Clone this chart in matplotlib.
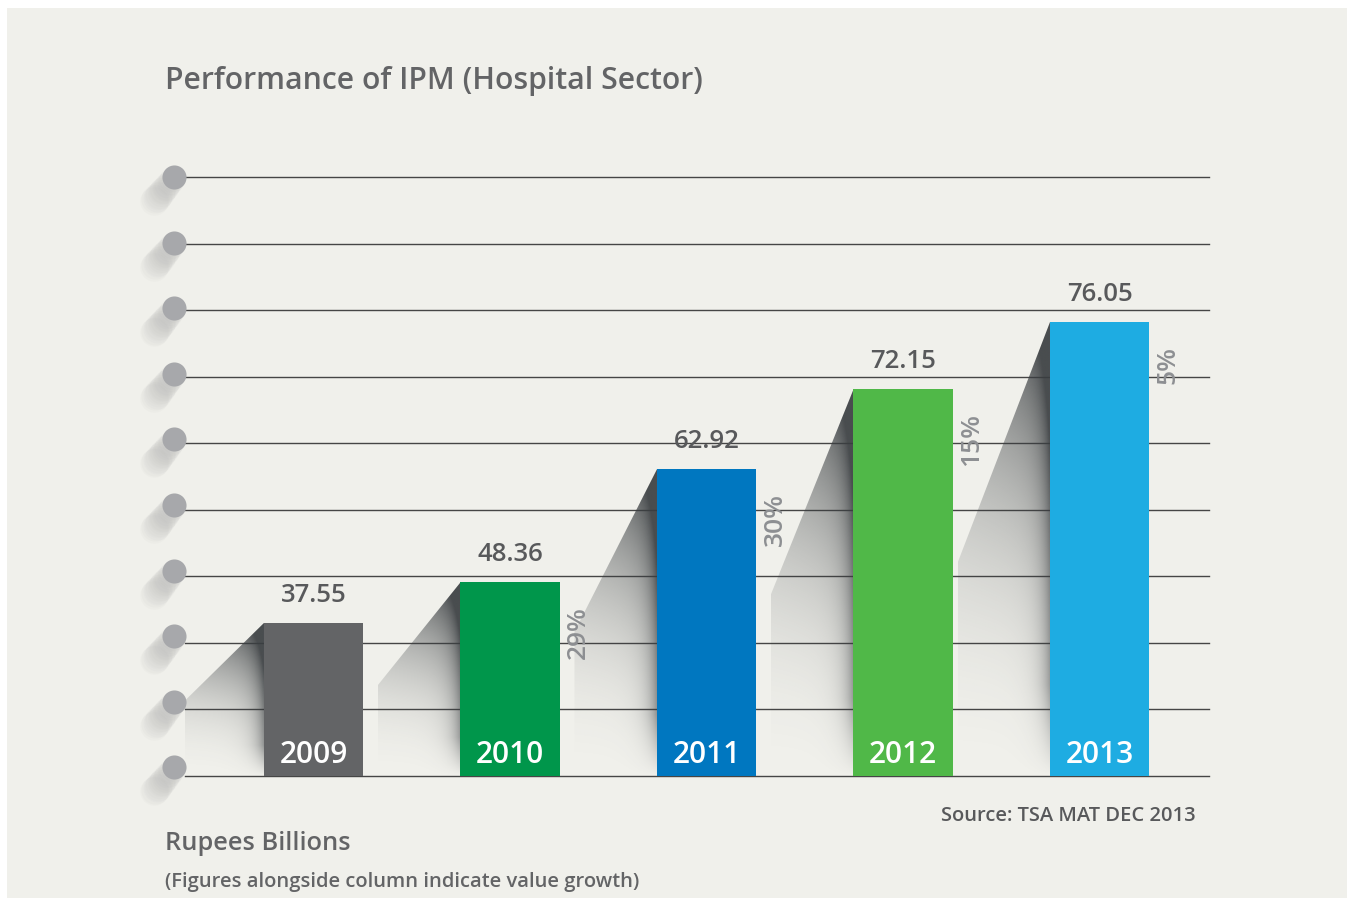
import numpy as np
import matplotlib
matplotlib.use('Agg')
import matplotlib.pyplot as plt
from matplotlib.patches import Polygon, Rectangle
from matplotlib.colors import to_rgb

# ---- data ----
years = ['2009', '2010', '2011', '2012', '2013']
values = [37.55, 48.36, 62.92, 72.15, 76.05]
growth = ['', '29%', '30%', '15%', '5%']
# column heights as drawn, in gridline units (the graphic is not drawn to scale)
heights = [2.30, 2.91, 4.61, 5.81, 6.82]
colors = ['#636466', '#00964b', '#0077c0', '#50b848', '#1eace2']
grid_levels = list(range(10))

title = 'Performance of IPM (Hospital Sector)'
source = 'Source: TSA MAT DEC 2013'
unit_label = 'Rupees Billions'
note = '(Figures alongside column indicate value growth)'

plt.rcParams['font.family'] = ['Open Sans', 'DejaVu Sans']

W, H = 1347, 898
fig = plt.figure(figsize=(W / 100, H / 100), dpi=100)
fig.patch.set_facecolor('white')
fig.add_artist(Rectangle((7 / W, 0), 1 - 7 / W, 1 - 8 / H, transform=fig.transFigure,
                         facecolor='#f0f0eb', edgecolor='none', zorder=-10))

ax_left, ax_right = 185 / W, 1209 / W
ax_bottom, ax_top = (H - 776) / H, (H - 177) / H
ax = fig.add_axes([ax_left, ax_bottom, ax_right - ax_left, ax_top - ax_bottom])
ax.set_facecolor('none')
for s in ax.spines.values():
    s.set_visible(False)
ax.set_xticks([])
ax.set_yticks([])

x = np.arange(len(years))
bar_w = 0.504
px_x = 196.5   # pixels per x unit
px_y = 66.56   # pixels per y unit

# gridlines
for g in grid_levels:
    ax.axhline(g, color='#454545', lw=1.0, zorder=1, clip_on=False)

# shadows
dark = np.array(to_rgb('#3a3e41'))
for i in range(len(years)):
    top = heights[i]
    bl = x[i] - bar_w / 2
    sw = 0.42 if i < 4 else 0.47
    x0 = bl - sw
    yk = 0.47 * top
    poly = Polygon([(bl, top), (x0, yk), (x0, 0), (bl, 0)], closed=True,
                   facecolor='none', edgecolor='none', transform=ax.transData)
    ax.add_patch(poly)
    nx, ny = 200, 300
    u = np.linspace(0, 1, nx)[None, :]
    v = np.linspace(0, 1, ny)[:, None]
    d_px = (1 - u) * sw * px_x
    a = 0.9 * v ** 2 * (0.72 + 0.28 * u)
    a = a + 0.48 * np.exp(-d_px / 10.0) * np.clip(v / 0.2, 0, 1)
    a = np.clip(a, 0, 0.92)
    img = np.zeros((ny, nx, 4))
    img[..., :3] = dark
    img[..., 3] = a
    im = ax.imshow(img, extent=[x0, bl, 0, top], origin='lower', aspect='auto',
                   interpolation='bilinear', zorder=2)
    im.set_clip_path(poly)

# bars
ax.bar(x, heights, width=bar_w, color=colors, zorder=3)

ax.set_xlim(-0.654, -0.654 + 1024 / px_x)
ax.set_ylim(0, 9)

# circles with soft tails
cx = -0.654 - 11 / px_x
cy = np.linspace(0.13, 9, 10)
for t in np.linspace(0, 1, 16):
    ax.scatter(np.full(10, cx - 20 / px_x * t), cy - 24 / px_y * t, s=300 + 120 * t,
               color='#a0a0a0', alpha=0.045, linewidths=0, zorder=4, clip_on=False)
ax.scatter(np.full(10, cx), cy, s=300, color='#a7a8ab', linewidths=0, zorder=5, clip_on=False)

# labels
for i in range(len(years)):
    ax.text(x[i], heights[i] + 0.32, f'{values[i]:.2f}', ha='center', va='baseline',
            fontsize=18.5, color='#58595b', fontweight='semibold', zorder=6)
    ax.text(x[i], 0.195, years[i], ha='center', va='baseline', fontsize=21.5,
            color='white', fontweight='semibold', zorder=6)
    if growth[i]:
        ax.text(x[i] + bar_w / 2 + 19 / px_x, heights[i] - 0.36, growth[i], rotation=90,
                ha='center', va='top', fontsize=19, color='#8d8f92',
                fontweight='semibold', zorder=6)

fig.text(165 / W, 1 - 81 / H, title, ha='left', va='center', fontsize=21.7,
         color='#636466', fontweight='semibold')
fig.text(1196 / W, 1 - 816 / H, source, ha='right', va='center', fontsize=14.5,
         color='#58595b', fontweight='semibold')
fig.text(165 / W, 1 - 844 / H, unit_label, ha='left', va='center', fontsize=18.3,
         color='#636466', fontweight='semibold')
fig.text(165 / W, 1 - 882 / H, note, ha='left', va='center', fontsize=14.5,
         color='#636466', fontweight='semibold')

fig.savefig('out.png', dpi=100, facecolor=fig.get_facecolor())
